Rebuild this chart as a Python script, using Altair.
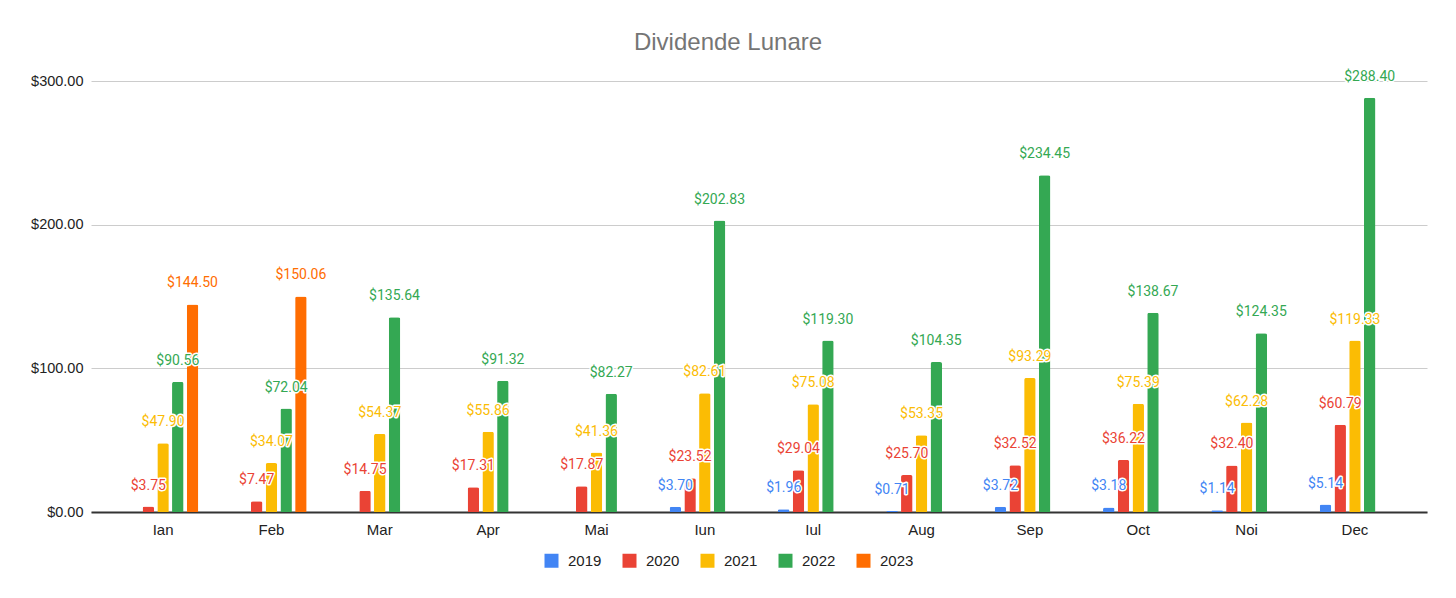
import altair as alt
import pandas as pd

months = ["Ian", "Feb", "Mar", "Apr", "Mai", "Iun", "Iul", "Aug", "Sep", "Oct", "Noi", "Dec"]
years = ["2019", "2020", "2021", "2022", "2023"]
colors = ["#4285F4", "#EA4335", "#FBBC04", "#34A853", "#FF6D01"]

v2019 = [None, None, None, None, None, 3.70, 1.96, 0.71, 3.72, 3.18, 1.14, 5.14]
v2020 = [3.75, 7.47, 14.75, 17.31, 17.87, 23.52, 29.04, 25.70, 32.52, 36.22, 32.40, 60.79]
v2021 = [47.90, 34.07, 54.37, 55.86, 41.36, 82.61, 75.08, 53.35, 93.29, 75.39, 62.28, 119.33]
v2022 = [90.56, 72.04, 135.64, 91.32, 82.27, 202.83, 119.30, 104.35, 234.45, 138.67, 124.35, 288.40]
v2023 = [144.50, 150.06, None, None, None, None, None, None, None, None, None, None]

y_ticks = [0, 100, 200, 300]

series = {"2019": v2019, "2020": v2020, "2021": v2021, "2022": v2022, "2023": v2023}
rows = []
for yr in years:
    for m, v in zip(months, series[yr]):
        if v is not None:
            rows.append({"month": m, "year": yr, "value": v})
df = pd.DataFrame(rows)

AX_FONT = "Liberation Sans"
LBL_FONT = "Roboto"

x = alt.X(
    "month:N",
    sort=months,
    scale=alt.Scale(domain=months, paddingInner=0.35, paddingOuter=0.34),
    axis=alt.Axis(
        title=None, labelAngle=0, ticks=False, labelPadding=10,
        labelFontSize=15, labelFont=AX_FONT, labelColor="#222222",
        domainColor="#333333", domainWidth=2, grid=False,
    ),
)
xo = alt.XOffset("year:N", scale=alt.Scale(domain=years, paddingInner=0.22, paddingOuter=0))
y = alt.Y(
    "value:Q",
    scale=alt.Scale(domain=[0, 300], nice=False),
    axis=alt.Axis(
        title=None, values=y_ticks, format="$,.2f", ticks=False, domain=False,
        labelPadding=8, labelFontSize=14.5, labelFont=AX_FONT, labelColor="#222222",
        gridColor="#cccccc", gridWidth=1,
    ),
)
legend = alt.Legend(
    title=None, orient="none", legendX=453, legendY=472, direction="horizontal",
    symbolType="square", symbolSize=196, symbolStrokeWidth=0, symbolOpacity=1,
    labelFontSize=15, labelFont=AX_FONT, labelColor="#222222",
    labelOffset=9, columnPadding=20,
)
color = alt.Color("year:N", scale=alt.Scale(domain=years, range=colors), legend=legend)
text = alt.Text("value:Q", format="$.2f")

base = alt.Chart(df).encode(x=x, xOffset=xo, y=y)

bars = base.mark_bar(cornerRadiusTopLeft=2, cornerRadiusTopRight=2).encode(color=color)
halo = base.mark_text(
    dy=-21, baseline="middle", align="center", font=LBL_FONT, fontSize=14,
    fill="white", stroke="white", strokeWidth=3, strokeJoin="round",
).encode(text=text)
labels = base.mark_text(
    dy=-21, baseline="middle", align="center", font=LBL_FONT, fontSize=14,
).encode(text=text, color=color)

chart = (
    alt.layer(bars, halo, labels)
    .properties(
        width=1336, height=431,
        autosize=alt.AutoSizeParams(type="none"),
        padding={"left": 83, "top": 73, "right": 21, "bottom": 78},
        title=alt.TitleParams(
            "Dividende Lunare", fontSize=24, font=AX_FONT, color="#757575",
            fontWeight="normal", anchor="middle", baseline="alphabetic", offset=19,
            dx=-31, dy=23,
        ),
        background="white",
    )
    .configure_view(stroke=None)
)

chart.save("out.html", embed_options={"renderer": "svg", "actions": False})
